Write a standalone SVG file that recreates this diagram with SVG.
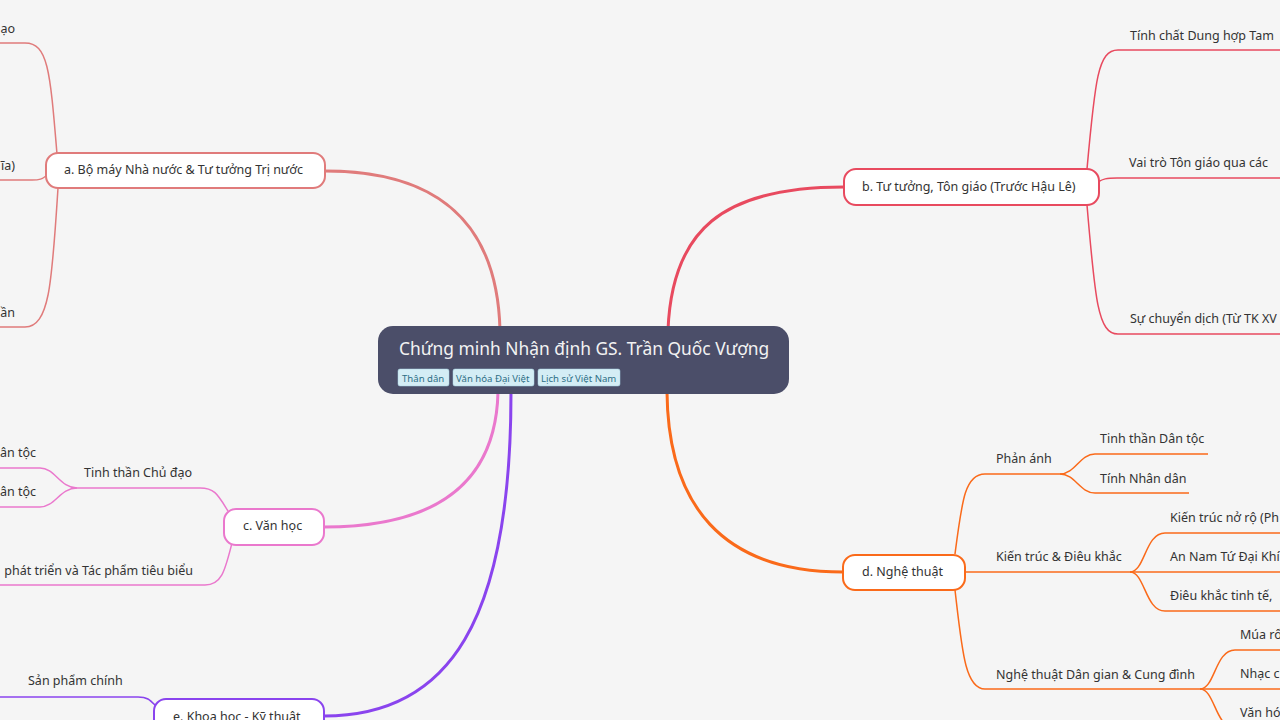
<svg xmlns="http://www.w3.org/2000/svg" width="1280" height="720" viewBox="0 0 1280 720">
<style>
text{font-family:"Noto Sans","Open Sans","DejaVu Sans",sans-serif;fill:#333;}
.t{font-size:12.5px;}
.n{fill:#fff;stroke-width:2;}
.br{fill:none;stroke-width:3;stroke-linecap:round;}
.sb{fill:none;stroke-width:1.5;}
.ca{stroke:#e07b7b;}
.cb{stroke:#e84a5f;}
.cc{stroke:#ea78cd;}
.cd{stroke:#fa6a1a;}
.ce{stroke:#8a44ee;}
.tag{fill:#d4edf5;stroke:#a9d6e6;stroke-width:0.5;}
.tagt{font-size:9.6px;fill:#2e6f86;}
</style>
<rect width="1280" height="720" fill="#f5f5f5"/>
<g id="connectors">
<path class="br ca" d="M 500 330 C 497 215, 430 171, 325 171"/>
<path class="br cb" d="M 668 330 C 672 230, 722 187, 844 187"/>
<path class="br cc" d="M 498 392 C 496 480, 440 527, 324 527"/>
<path class="br ce" d="M 511 392 C 511 620, 450 716, 324 716"/>
<path class="br cd" d="M 667 392 C 668 505, 722 572, 843 572"/>
<path class="sb ca" d="M 57 154 C 50 70, 48 43, 25 43 H -5"/>
<path class="sb ca" d="M 46 176 C 42 179, 40 180, 32 180 H -5"/>
<path class="sb ca" d="M 58 188 C 52 280, 50 327, 25 327 H -5"/>
<path class="sb cb" d="M 1087 169 C 1095 80, 1098 50, 1118 50 H 1285"/>
<path class="sb cb" d="M 1098 182 C 1103 179, 1106 178, 1117 178 H 1285"/>
<path class="sb cb" d="M 1087 205 C 1095 300, 1098 334, 1118 334 H 1285"/>
<path class="sb cc" d="M 228 511 C 218 495, 215 488, 200 488 H 77"/>
<path class="sb cc" d="M 77 488 C 60 488, 55 468, 40 468 H -5"/>
<path class="sb cc" d="M 77 488 C 60 488, 55 507, 40 507 H -5"/>
<path class="sb cc" d="M 232 543 C 225 570, 222 585, 205 585 H -5"/>
<path class="sb ce" d="M 157 707 C 150 700, 148 697, 138 697 H -5"/>
<path class="sb cd" d="M 955 554 C 962 500, 965 474, 985 474 H 1060"/>
<path class="sb cd" d="M 1060 474 C 1075 474, 1080 454, 1095 454 H 1208"/>
<path class="sb cd" d="M 1060 474 C 1075 474, 1080 493, 1095 493 H 1189"/>
<path class="sb cd" d="M 965 572 H 1130"/>
<path class="sb cd" d="M 1130 572 C 1145 572, 1145 533, 1165 533 H 1285"/>
<path class="sb cd" d="M 1130 572 H 1285"/>
<path class="sb cd" d="M 1130 572 C 1145 572, 1145 611, 1165 611 H 1285"/>
<path class="sb cd" d="M 955 590 C 962 650, 965 689, 985 689 H 1200"/>
<path class="sb cd" d="M 1200 689 C 1215 689, 1215 650, 1235 650 H 1285"/>
<path class="sb cd" d="M 1200 689 H 1285"/>
<path class="sb cd" d="M 1200 689 C 1215 689, 1215 728, 1235 728 H 1285"/>
</g>
<g id="center">
<rect x="378" y="326" width="411" height="68" rx="15" fill="#4b4e69"/>
<text x="399" y="355" style="font-size:17.4px;fill:#f2f2f2">Chứng minh Nhận định GS. Trần Quốc Vượng</text>
<rect class="tag" x="398" y="369" width="51" height="17" rx="2"/>
<text class="tagt" x="402" y="381.5">Thân dân</text>
<rect class="tag" x="453" y="369" width="81" height="17" rx="2"/>
<text class="tagt" x="456" y="381.5">Văn hóa Đại Việt</text>
<rect class="tag" x="538" y="369" width="82" height="17" rx="2"/>
<text class="tagt" x="541" y="381.5">Lịch sử Việt Nam</text>
</g>
<g id="node-a">
<rect class="n ca" x="46" y="153" width="279" height="35" rx="12"/>
<text class="t" x="64" y="174">a. Bộ máy Nhà nước &amp; Tư tưởng Trị nước</text>
</g>
<g id="node-a1"><text class="t" x="15" y="33" text-anchor="end">ạo</text></g>
<g id="node-a2"><text class="t" x="15" y="170" text-anchor="end">ĩa)</text></g>
<g id="node-a3"><text class="t" x="15" y="317" text-anchor="end">ần</text></g>
<g id="node-b">
<rect class="n cb" x="844" y="169" width="255" height="36" rx="12"/>
<text class="t" x="862" y="191">b. Tư tưởng, Tôn giáo (Trước Hậu Lê)</text>
</g>
<g id="node-b1"><text class="t" x="1130" y="40">Tính chất Dung hợp Tam</text></g>
<g id="node-b2"><text class="t" x="1129" y="167">Vai trò Tôn giáo qua các</text></g>
<g id="node-b3"><text class="t" x="1130" y="323">Sự chuyển dịch (Từ TK XV</text></g>
<g id="node-c">
<rect class="n cc" x="224" y="509" width="100" height="36" rx="12"/>
<text class="t" x="243" y="530">c. Văn học</text>
</g>
<g id="node-c1"><text class="t" x="84" y="477">Tinh thần Chủ đạo</text></g>
<g id="node-c11"><text class="t" x="36" y="457" text-anchor="end">ân tộc</text></g>
<g id="node-c12"><text class="t" x="36" y="496" text-anchor="end">ân tộc</text></g>
<g id="node-c2"><text class="t" x="193" y="575" text-anchor="end">phát triển và Tác phẩm tiêu biểu</text></g>
<g id="node-d">
<rect class="n cd" x="843" y="555" width="122" height="35" rx="12"/>
<text class="t" x="862" y="576">d. Nghệ thuật</text>
</g>
<g id="node-d1"><text class="t" x="996" y="463">Phản ánh</text></g>
<g id="node-d11"><text class="t" x="1100" y="443">Tinh thần Dân tộc</text></g>
<g id="node-d12"><text class="t" x="1100" y="483">Tính Nhân dân</text></g>
<g id="node-d2"><text class="t" x="996" y="561">Kiến trúc &amp; Điêu khắc</text></g>
<g id="node-d21"><text class="t" x="1170" y="522">Kiến trúc nở rộ (Ph</text></g>
<g id="node-d22"><text class="t" x="1170" y="561">An Nam Tứ Đại Khí</text></g>
<g id="node-d23"><text class="t" x="1170" y="600">Điêu khắc tinh tế,</text></g>
<g id="node-d3"><text class="t" x="996" y="679">Nghệ thuật Dân gian &amp; Cung đình</text></g>
<g id="node-d31"><text class="t" x="1240" y="639">Múa rố</text></g>
<g id="node-d32"><text class="t" x="1240" y="678">Nhạc c</text></g>
<g id="node-d33"><text class="t" x="1240" y="717">Văn hó</text></g>
<g id="node-e">
<rect class="n ce" x="154" y="699" width="170" height="36" rx="12"/>
<text class="t" x="173" y="721">e. Khoa học - Kỹ thuật</text>
</g>
<g id="node-e1"><text class="t" x="28" y="685">Sản phẩm chính</text></g>
</svg>
